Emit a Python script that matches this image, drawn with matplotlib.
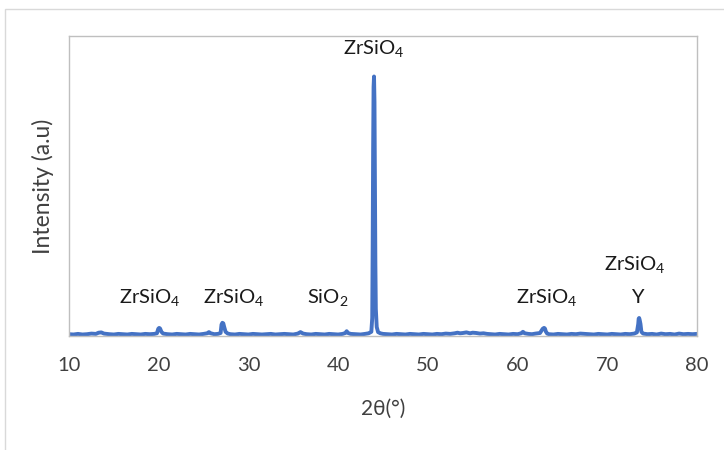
import matplotlib
matplotlib.use("Agg")
import matplotlib.pyplot as plt
from matplotlib.patches import Rectangle

plt.rcParams['font.family'] = ['Lato', 'DejaVu Sans']
plt.rcParams['mathtext.fontset'] = 'custom'
plt.rcParams['mathtext.rm'] = 'Lato'
plt.rcParams['mathtext.it'] = 'Lato:italic'

two_theta = [10.0, 10.5, 11.0, 11.5, 12.0, 12.5, 13.0, 13.3, 13.6, 13.9, 14.5, 15.0, 15.5, 16.0,
             16.5, 17.0, 17.5, 18.0, 18.5, 19.0, 19.5, 19.8, 19.95, 20.05, 20.15, 20.3, 20.5,
             21.0, 21.5, 22.0, 22.5, 23.0, 23.5, 24.0, 24.5, 25.0, 25.4, 25.6, 25.8, 26.2,
             26.6, 26.9, 27.0, 27.1, 27.2, 27.3, 27.45, 27.7, 28.0, 28.5, 29.0, 29.5, 30.0,
             30.5, 31.0, 31.5, 32.0, 32.5, 33.0, 33.5, 34.0, 34.5, 35.0, 35.5, 35.8, 36.1,
             36.5, 37.0, 37.5, 38.0, 38.5, 39.0, 39.5, 40.0, 40.5, 40.8, 40.95, 41.1, 41.4,
             42.0, 42.5, 43.0, 43.4, 43.7, 43.8, 43.85, 43.9, 43.95, 44.0, 44.05, 44.1, 44.15,
             44.2, 44.3, 44.45, 44.7, 45.0, 45.5, 46.0, 46.5, 47.0, 47.5, 48.0, 48.5, 49.0,
             49.5, 50.0, 50.5, 51.0, 51.5, 52.0, 52.5, 53.0, 53.3, 53.6, 53.9, 54.3, 54.7,
             55.0, 55.4, 55.8, 56.2, 56.6, 57.0, 57.5, 58.0, 58.5, 59.0, 59.5, 60.0, 60.4,
             60.6, 60.8, 61.2, 61.6, 62.0, 62.5, 62.8, 62.95, 63.05, 63.15, 63.3, 63.5, 64.0,
             64.5, 65.0, 65.5, 66.0, 66.5, 67.0, 67.5, 68.0, 68.5, 69.0, 69.5, 70.0, 70.5,
             71.0, 71.5, 72.0, 72.5, 73.0, 73.3, 73.45, 73.5, 73.55, 73.6, 73.65, 73.7,
             73.8, 74.0, 74.5, 75.0, 75.5, 76.0, 76.5, 77.0, 77.5, 78.0, 78.5, 79.0, 79.5, 80.0]

intensity = [6, 5, 7, 5, 6, 8, 7, 11, 12, 8, 6, 5, 7, 6,
             5, 7, 6, 5, 7, 6, 7, 9, 24, 27, 25, 14, 8,
             6, 5, 7, 6, 5, 7, 6, 5, 7, 9, 13, 9, 6,
             7, 10, 38, 44, 42, 30, 14, 8, 6, 5, 7, 6, 5,
             7, 6, 5, 6, 7, 5, 6, 7, 6, 5, 8, 13, 8,
             6, 5, 7, 6, 5, 7, 6, 5, 7, 10, 16, 10, 7,
             6, 5, 7, 9, 14, 60, 300, 620, 830, 865, 780, 520, 240,
             90, 30, 13, 9, 7, 6, 5, 7, 6, 5, 7, 6, 5,
             7, 6, 5, 7, 6, 8, 7, 9, 11, 9, 10, 12, 9,
             11, 10, 8, 9, 7, 6, 5, 7, 6, 5, 7, 6, 9,
             14, 9, 7, 6, 8, 10, 24, 27, 25, 15, 8, 6, 5,
             7, 6, 5, 7, 6, 8, 7, 6, 5, 7, 6, 5, 7,
             6, 5, 7, 6, 8, 12, 40, 58, 60, 55, 48, 40,
             14, 8, 6, 7, 5, 8, 6, 7, 5, 8, 6, 7, 6, 7]

labels = [r'ZrSiO$_4$', r'ZrSiO$_4$', r'SiO$_2$', r'ZrSiO$_4$', r'ZrSiO$_4$', r'ZrSiO$_4$', 'Y']
label_x = [19.0, 28.4, 38.8, 44.0, 63.2, 73.1, 73.3]
label_y = [127, 127, 127, 960, 127, 237, 127]

x_ticks = [10, 20, 30, 40, 50, 60, 70, 80]

FS = 14.5

fig = plt.figure(figsize=(7.24, 4.5), dpi=100)
fig.patches.append(Rectangle((5 / 724, -0.1), 1.2, (450 - 9) / 450 + 0.1,
                             transform=fig.transFigure, fill=False,
                             edgecolor='#d9d9d9', linewidth=1.0))
ax = fig.add_axes([69 / 724, (450 - 336) / 450, (697 - 69) / 724, 300 / 450])
ax.plot(two_theta, intensity, color='#4472C4', linewidth=2.8, solid_joinstyle='round')
ax.set_xlim(10, 80)
ax.set_ylim(0, 1000)
ax.set_xticks(x_ticks)
ax.set_xticklabels([str(t) for t in x_ticks])
ax.set_yticks([])
ax.tick_params(axis='x', length=0, pad=15, labelsize=FS, labelcolor='#404040')
for s in ax.spines.values():
    s.set_color('#bfbfbf')
    s.set_linewidth(1.0)
ax.set_xlabel('2θ(°)', fontsize=FS + 0.5, color='#404040', labelpad=18)
ax.set_ylabel('Intensity (a.u)', fontsize=16.5, color='#404040', labelpad=11)

for t, x, y in zip(labels, label_x, label_y):
    ax.text(x, y, t, ha='center', va='center', fontsize=FS, color='#1a1a1a')

fig.savefig('out.png', dpi=100)
